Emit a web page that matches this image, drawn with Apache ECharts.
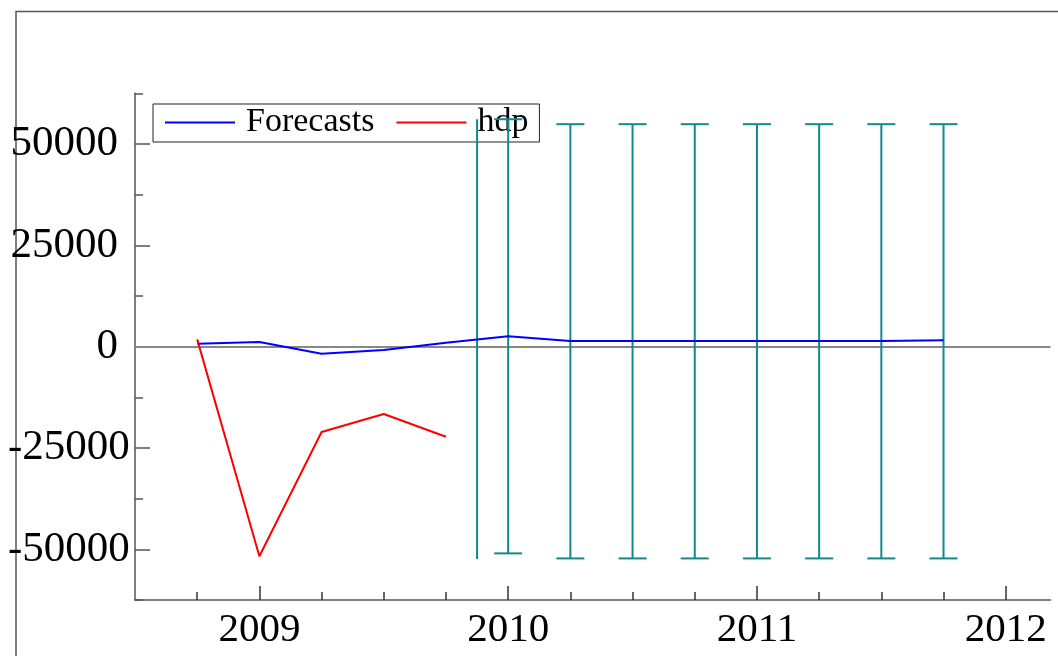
<!DOCTYPE html>
<html>
<head>
<meta charset="utf-8">
<script src="https://cdn.jsdelivr.net/npm/echarts@6/dist/echarts.min.js"></script>
<style>
  html, body { margin: 0; padding: 0; background: #fff; }
  #chart { width: 1058px; height: 656px; }
</style>
</head>
<body>
<div id="chart"></div>
<script>
// Quarterly dates (fractional years)
const quarters = [2008.75, 2009, 2009.25, 2009.5, 2009.75, 2010, 2010.25, 2010.5, 2010.75, 2011, 2011.25, 2011.5, 2011.75];
const forecasts = [700, 1150, -1740, -830, 980, 2550, 1400, 1400, 1400, 1400, 1400, 1400, 1600];

const hdpDates = [2008.75, 2009, 2009.25, 2009.5, 2009.75];
const hdp = [1800, -51700, -21070, -16620, -22220];

// Forecast interval bars (with caps)
const barDates = [2010, 2010.25, 2010.5, 2010.75, 2011, 2011.25, 2011.5, 2011.75];
const barLow = [-51000, -52240, -52240, -52240, -52240, -52240, -52240, -52240];
const barHigh = [56100, 54880, 54880, 54880, 54880, 54880, 54880, 54880];

// Plain interval line (no caps)
const spanDates = [2009.875];
const spanLow = [-52400];
const spanHigh = [56100];

// Axis ticks and labels
const yMajor = [-50000, -25000, 0, 25000, 50000];
const yMinor = [-62500, -37500, -12500, 12500, 37500, 62500];
const xMajor = [2009, 2010, 2011, 2012];
const xMinor = [2008.75, 2009.25, 2009.5, 2009.75, 2010.25, 2010.5, 2010.75, 2011.25, 2011.5, 2011.75];

const FONT = 'Liberation Serif';
const AXIS = '#555';
const TEAL = '#12898a';

function pairs(xs, ys) { return xs.map((x, i) => [x, ys[i]]); }
function triples(xs, lo, hi) { return xs.map((x, i) => [x, lo[i], hi[i]]); }

function intervalRenderer(capHalf) {
  return function (params, api) {
    const x = api.value(0);
    const pLo = api.coord([x, api.value(1)]);
    const pHi = api.coord([x, api.value(2)]);
    const style = { stroke: TEAL, lineWidth: 2 };
    const children = [
      { type: 'line', shape: { x1: pLo[0], y1: pLo[1], x2: pHi[0], y2: pHi[1] }, style: style }
    ];
    if (capHalf > 0) {
      children.push({ type: 'line', shape: { x1: pHi[0] - capHalf, y1: pHi[1], x2: pHi[0] + capHalf, y2: pHi[1] }, style: style });
      children.push({ type: 'line', shape: { x1: pLo[0] - capHalf, y1: pLo[1], x2: pLo[0] + capHalf, y2: pLo[1] }, style: style });
    }
    return { type: 'group', children: children };
  };
}

const chart = echarts.init(document.getElementById('chart'), null, { renderer: 'canvas' });

const xMin = 2008.5, xMax = 2012.18;
const yMin = -62500, yMax = 62500;
const GRID = { left: 135, right: 7.5, top: 93.3, bottom: 56 };
const plotHeight = 656 - GRID.top - GRID.bottom;

// Tick-only x axes: anchored at the top edge and pulled down onto the
// bottom line, so their ticks point upward into the plot.
function xTickAxis(values, len) {
  return {
    type: 'value', min: xMin, max: xMax, position: 'top', offset: -plotHeight,
    axisLine: { show: false, onZero: false },
    axisTick: { show: true, length: len, customValues: values, lineStyle: { color: '#333', width: 1.5 } },
    axisLabel: { show: false },
    splitLine: { show: false }
  };
}

chart.setOption({
  animation: false,
  backgroundColor: '#fff',
  grid: Object.assign({ outerBoundsMode: 'none', containLabel: false }, GRID),
  graphic: [
    {
      type: 'polyline',
      shape: { points: [[16, 656], [16, 11.5], [1058, 11.5]] },
      style: { stroke: AXIS, lineWidth: 1.5, fill: null },
      silent: true
    }
  ],
  legend: {
    left: 153,
    top: 104,
    z: 1,
    orient: 'horizontal',
    padding: [1, 11, 2, 12],
    borderColor: '#222',
    borderWidth: 1,
    itemGap: 22,
    itemWidth: 70,
    itemHeight: 2,
    icon: 'rect',
    data: ['Forecasts', 'hdp'],
    textStyle: { fontFamily: FONT, fontSize: 34, color: '#000', lineHeight: 35, padding: [0, 0, 0, 6] }
  },
  xAxis: [
    {
      type: 'value', min: xMin, max: xMax, position: 'bottom',
      axisLine: { show: true, onZero: false, lineStyle: { color: AXIS, width: 1.5 } },
      axisTick: { show: false },
      axisLabel: { show: true, customValues: xMajor, margin: 10, formatter: v => String(v), fontFamily: FONT, fontSize: 41, color: '#000' },
      splitLine: { show: false }
    },
    xTickAxis(xMajor, 14),
    xTickAxis(xMinor, 8)
  ],
  yAxis: [
    {
      type: 'value', min: yMin, max: yMax,
      axisLine: { show: true, onZero: false, lineStyle: { color: AXIS, width: 1.5 } },
      axisTick: { show: true, inside: true, length: 15, customValues: yMajor, lineStyle: { color: AXIS, width: 1.5 } },
      axisLabel: {
        show: true, customValues: yMajor, margin: 17,
        // negative labels start where the positive ones do and run past them
        formatter: v => (v < 0 ? '{neg|' + v + '}' : String(v)),
        fontFamily: FONT, fontSize: 43, color: '#000',
        rich: { neg: { fontFamily: FONT, fontSize: 43, color: '#000', width: 110, align: 'left', overflow: 'none' } }
      },
      splitLine: { show: false }
    },
    {
      type: 'value', min: yMin, max: yMax, position: 'left', offset: 0,
      axisLine: { show: false, onZero: false },
      axisTick: { show: true, inside: true, length: 8, customValues: yMinor, lineStyle: { color: AXIS, width: 1.5 } },
      axisLabel: { show: false },
      splitLine: { show: false }
    }
  ],
  series: [
    {
      name: 'Forecasts',
      type: 'line',
      data: pairs(quarters, forecasts),
      symbol: 'none',
      color: '#0000ff',
      lineStyle: { color: '#0000ff', width: 2 },
      z: 4,
      markLine: {
        silent: true,
        symbol: 'none',
        label: { show: false },
        lineStyle: { color: '#888', width: 2, type: 'solid' },
        data: [{ yAxis: 0 }],
        z: 1
      }
    },
    {
      name: 'hdp',
      type: 'line',
      data: pairs(hdpDates, hdp),
      symbol: 'none',
      color: '#ff0000',
      lineStyle: { color: '#ff0000', width: 2 },
      z: 4
    },
    {
      name: 'interval',
      type: 'custom',
      renderItem: intervalRenderer(14),
      encode: { x: 0, y: [1, 2] },
      data: triples(barDates, barLow, barHigh),
      z: 3
    },
    {
      name: 'span',
      type: 'custom',
      renderItem: intervalRenderer(0),
      encode: { x: 0, y: [1, 2] },
      data: triples(spanDates, spanLow, spanHigh),
      z: 3
    }
  ]
});
</script>
</body>
</html>
